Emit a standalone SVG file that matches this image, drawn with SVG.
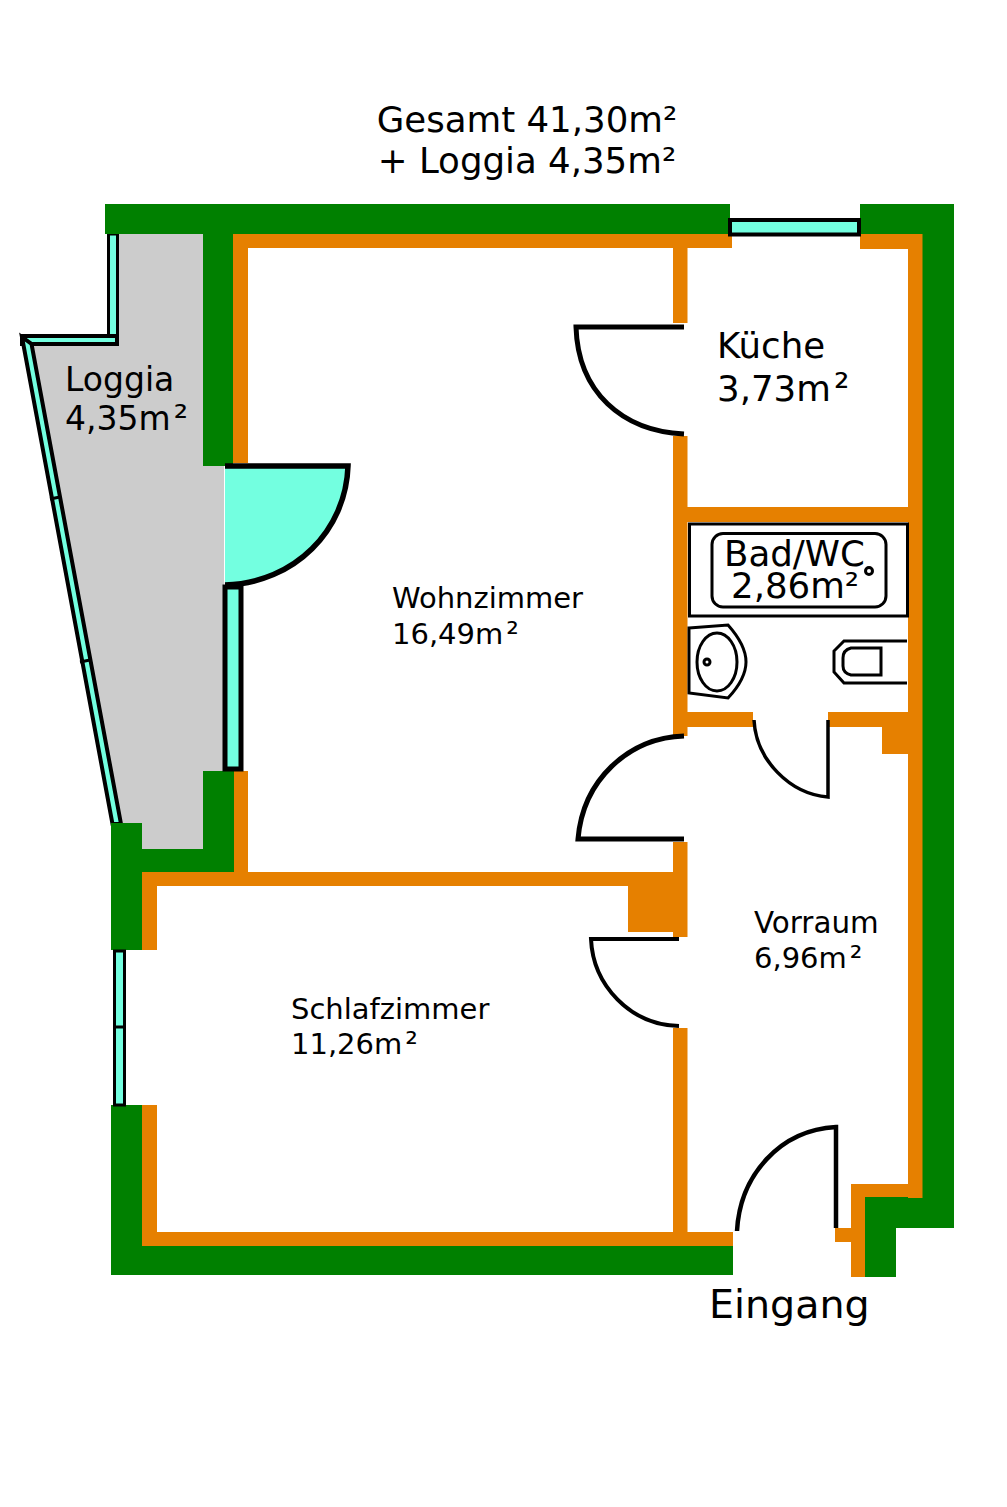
<svg xmlns="http://www.w3.org/2000/svg" width="1007" height="1507" viewBox="0 0 1007 1507">
<style>
.g{fill:#008000}
.o{fill:#e68000}
.w{fill:#73ffe0;stroke:#000}
.d{fill:none;stroke:#000;stroke-linejoin:miter}
.l{fill:none;stroke:#000;stroke-width:3}
text{font-family:"DejaVu Sans",sans-serif;fill:#000}
.a{font-size:35.600px}
.c{font-size:33px}
.b{font-size:29px}
.s{font-size:1.080em}
</style>
<rect width="1007" height="1507" fill="#fff"/>
<g id="loggia">
<path fill="#ccc" d="M118 234H203V466H224V771H203V849H142V824H122L33 345H118Z"/>
<path class="w" stroke-width="3" d="M108.500 234H117.500V336H108.500Z"/>
<path class="w" stroke-width="4" d="M22 336H117V344H22Z"/>
<path class="w" stroke-width="4" d="M22 337L31.500 344L121 824H112.500Z"/>
<path class="l" d="M50 499L60 497M80 662L90 660"/>
</g>
<g id="walls-outer">
<rect class="g" x="105" y="204" width="625" height="30"/>
<rect class="g" x="203" y="234" width="30" height="232"/>
<rect class="g" x="203" y="771" width="31" height="101"/>
<rect class="g" x="142" y="849" width="61" height="23"/>
<rect class="g" x="111" y="823" width="31" height="127"/>
<rect class="g" x="111" y="1105" width="31" height="169"/>
<rect class="g" x="111" y="1246" width="622" height="29"/>
<rect class="g" x="860" y="204" width="94" height="30"/>
<rect class="g" x="922" y="204" width="32" height="1024"/>
<rect class="g" x="865" y="1197" width="89" height="31"/>
<rect class="g" x="865" y="1197" width="31" height="80"/>
</g>
<g id="walls-inner">
<rect class="o" x="233" y="234" width="499" height="14"/>
<rect class="o" x="233" y="234" width="15" height="229"/>
<rect class="o" x="234" y="771" width="14" height="115"/>
<rect class="o" x="142" y="872" width="531" height="14"/>
<rect class="o" x="142" y="872" width="15" height="78"/>
<rect class="o" x="142" y="1105" width="15" height="141"/>
<rect class="o" x="142" y="1232" width="591" height="14"/>
<rect class="o" x="673" y="248" width="14.500" height="75"/>
<rect class="o" x="673" y="436" width="14.500" height="300"/>
<rect class="o" x="673" y="842" width="14.500" height="95"/>
<rect class="o" x="628" y="872" width="45" height="60"/>
<rect class="o" x="673" y="1028" width="14.500" height="205"/>
<rect class="o" x="860" y="234" width="62" height="15"/>
<rect class="o" x="908" y="234" width="14.500" height="964"/>
<rect class="o" x="687" y="507" width="221" height="15"/>
<rect class="o" x="687" y="712" width="66" height="15"/>
<rect class="o" x="828" y="712" width="80" height="15"/>
<rect class="o" x="882" y="712" width="26" height="42"/>
<rect class="o" x="851" y="1184" width="71" height="13"/>
<rect class="o" x="851" y="1184" width="14" height="93"/>
<rect class="o" x="835" y="1228" width="16" height="14"/>
</g>
<g id="windows">
<rect class="w" x="730" y="220" width="129" height="14.500" stroke-width="4"/>
<rect class="w" x="225" y="587" width="16" height="182" stroke-width="5"/>
<rect class="w" x="114.500" y="951" width="10" height="154" stroke-width="3"/>
<path class="l" d="M113 1027H126"/>
</g>
<g id="doors">
<path d="M225 466H348C348 530 295 585 225 585Z" fill="#73ffe0" stroke="none"/>
<path class="d" stroke-width="5.500" d="M225 466H348C346 530 295 583 225 585"/>
<path class="d" stroke-width="5" d="M684 327H576C578 392 622 431 684 434"/>
<path class="d" stroke-width="5" d="M684 736C628 738 583 780 578 839H684"/>
<path class="d" stroke-width="4" d="M679 939H591C593 985 630 1025 679 1026"/>
<path class="d" stroke-width="3.500" d="M754 720C756 760 790 794 828 797V720"/>
<path class="d" stroke-width="4.500" d="M737 1231C740 1175 780 1130 836 1127V1228"/>
</g>
<g id="fixtures">
<rect class="l" x="689.500" y="524" width="218" height="92" stroke-width="2.500"/>
<rect class="l" x="712" y="533.500" width="174" height="73.500" rx="11" stroke-width="2"/>
<circle class="l" cx="869" cy="571" r="3.500" stroke-width="2"/>
<path class="l" d="M689 628L728 625C752 652 752 672 728 698L689 693Z"/>
<ellipse class="l" cx="717" cy="662" rx="20" ry="29"/>
<circle class="l" cx="707" cy="662" r="3" stroke-width="2"/>
<path class="l" d="M907 641H844L834 651V672L844 683H907"/>
<path class="l" d="M881 648H851Q843 650 843 658V666Q843 673 851 675H881Z"/>
</g>
<g id="labels">
<text class="a" x="527" y="132" text-anchor="middle">Gesamt 41,30m²</text>
<text class="a" x="527" y="173" text-anchor="middle">+ Loggia 4,35m²</text>
<text class="c" x="65" y="391">Loggia</text>
<text class="c" x="65" y="430">4,35m<tspan class="s" dx="3">²</tspan></text>
<text class="a" x="717" y="358">Küche</text>
<text class="a" x="717" y="401">3,73m<tspan class="s" dx="3">²</tspan></text>
<text class="a" x="724" y="566">Bad/WC</text>
<text class="a" x="731" y="598">2,86m²</text>
<text class="b" x="392" y="608">Wohnzimmer</text>
<text class="b" x="392" y="644">16,49m<tspan class="s" dx="3">²</tspan></text>
<text class="b" x="291" y="1019">Schlafzimmer</text>
<text class="b" x="291" y="1054">11,26m<tspan class="s" dx="3">²</tspan></text>
<text class="b" x="754" y="933" style="font-size:29.400px">Vorraum</text>
<text class="b" x="754" y="968">6,96m<tspan class="s" dx="3">²</tspan></text>
<text x="709" y="1318" style="font-size:39.600px">Eingang</text>
</g>
</svg>
